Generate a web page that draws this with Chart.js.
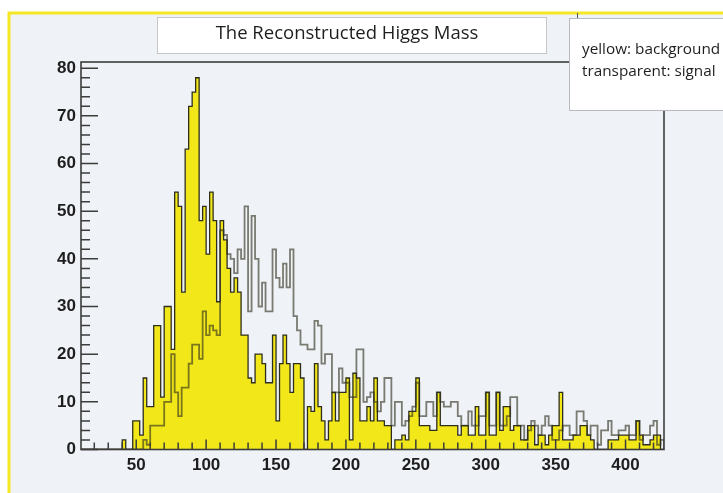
<!DOCTYPE html>
<html>
<head>
<meta charset="utf-8">
<title>The Reconstructed Higgs Mass</title>
<script src="https://cdn.jsdelivr.net/npm/chart.js@4.4.0/dist/chart.umd.min.js"></script>
<style>
  html, body { margin: 0; padding: 0; background: #fff; }
  #wrap { width: 723px; height: 493px; }
</style>
</head>
<body>
<div id="wrap"><canvas id="higgsChart" width="723" height="493"></canvas></div>
<script>
// --- histogram data (2.5 GeV bins starting at 10 GeV) ---
const binStart = 10;
const binWidth = 2.5;

// yellow: background
const background = [
  0, 0, 0, 0, 0, 0, 0, 0, 0, 0,
  0, 0, 2, 0, 0, 6, 6, 3, 15, 9,
  9, 26, 26, 11, 30, 30, 21, 54, 51, 33,
  63, 72, 75, 78, 48, 51, 41, 54, 48, 31,
  48, 44, 38, 33, 36, 33, 24, 24, 15, 14,
  20, 20, 18, 14, 14, 24, 6, 18, 24, 18,
  12, 18, 18, 15, 0, 9, 8, 18, 9, 6,
  2, 6, 12, 6, 12, 12, 15, 2, 16, 15,
  6, 6, 9, 6, 15, 6, 6, 5, 5, 0,
  2, 2, 3, 2, 8, 8, 15, 5, 5, 5,
  4, 4, 12, 5, 5, 5, 5, 5, 3, 5,
  5, 3, 3, 9, 3, 3, 12, 3, 3, 12,
  4, 9, 9, 4, 5, 5, 2, 2, 5, 5,
  1, 3, 3, 1, 3, 5, 5, 12, 2, 2,
  2, 3, 3, 5, 5, 3, 2, 0, 0, 0,
  0, 2, 2, 2, 3, 3, 3, 2, 2, 6,
  3, 1, 1, 2, 3, 3, 0
];

// transparent: signal
const signal = [
  0, 0, 0, 0, 0, 0, 0, 0, 0, 0,
  0, 0, 0, 0, 0, 0, 0, 0, 2, 1,
  5, 5, 5, 5, 10, 10, 20, 12, 7, 13,
  13, 18, 22, 22, 19, 29, 24, 26, 25, 24,
  46, 45, 41, 40, 37, 42, 40, 51, 29, 49,
  40, 30, 35, 29, 29, 42, 36, 34, 39, 34,
  42, 28, 25, 22, 22, 21, 21, 27, 26, 18,
  20, 20, 12, 12, 17, 14, 14, 11, 11, 21,
  21, 10, 11, 12, 10, 8, 10, 15, 15, 5,
  10, 10, 5, 6, 7, 9, 14, 7, 7, 10,
  10, 7, 12, 10, 9, 9, 10, 10, 7, 5,
  5, 8, 5, 5, 7, 7, 12, 5, 5, 12,
  5, 5, 7, 11, 11, 5, 5, 2, 4, 6,
  5, 3, 5, 7, 5, 2, 2, 4, 5, 5,
  3, 3, 8, 8, 6, 3, 5, 5, 1, 4,
  4, 6, 3, 3, 4, 4, 5, 3, 3, 6,
  2, 3, 3, 5, 6, 1, 2
];

const xTicks = [50, 100, 150, 200, 250, 300, 350, 400];
const yTicks = [0, 10, 20, 30, 40, 50, 60, 70, 80];

const titleText = 'The Reconstructed Higgs Mass';
const legendLines = ['yellow: background', 'transparent: signal'];

// bin contents -> step points (left edge of every bin, closed at the right edge)
function toSteps(values) {
  const pts = values.map((v, i) => ({ x: binStart + i * binWidth, y: v }));
  const end = binStart + values.length * binWidth;
  pts.push({ x: end, y: values[values.length - 1] });
  pts.push({ x: end, y: 0 });
  return pts;
}

// pad background with the yellow canvas border
const padBackground = {
  id: 'padBackground',
  beforeDraw(chart) {
    const { ctx, width, height } = chart;
    ctx.save();
    ctx.fillStyle = '#ffffff';
    ctx.fillRect(0, 0, width, height);
    ctx.fillStyle = '#eff2f6';
    ctx.fillRect(10, 14, width - 10, height - 14);
    ctx.strokeStyle = '#f3e822';
    ctx.lineWidth = 3;
    ctx.beginPath();
    ctx.moveTo(9, height);
    ctx.lineTo(9, 13);
    ctx.lineTo(width, 13);
    ctx.stroke();
    ctx.restore();
  }
};

// ROOT style frame with inward ticks
const frameAndTicks = {
  id: 'frameAndTicks',
  afterDatasetsDraw(chart) {
    const { ctx, chartArea: a, scales: { x, y } } = chart;
    ctx.save();
    ctx.strokeStyle = '#3c3c3c';
    ctx.lineWidth = 1.5;
    ctx.beginPath();
    for (let v = 20; v <= 420; v += 10) {
      const px = x.getPixelForValue(v);
      const len = v % 50 === 0 ? 10 : 7;
      ctx.moveTo(px, a.bottom);
      ctx.lineTo(px, a.bottom - len);
    }
    for (let v = 0; v <= 80; v += 2) {
      const py = y.getPixelForValue(v);
      const len = v % 10 === 0 ? 17 : 9;
      ctx.moveTo(a.left, py);
      ctx.lineTo(a.left + len, py);
    }
    ctx.stroke();
    ctx.lineWidth = 1.6;
    ctx.strokeRect(a.left, a.top, a.right - a.left, a.bottom - a.top);
    ctx.restore();
  }
};

// title box and the text legend box
const overlayBoxes = {
  id: 'overlayBoxes',
  afterDraw(chart) {
    const { ctx } = chart;
    ctx.save();
    ctx.fillStyle = '#ffffff';
    ctx.strokeStyle = '#c4c6ca';
    ctx.lineWidth = 1;
    ctx.fillRect(157, 17, 389, 36);
    ctx.strokeRect(157.5, 17.5, 389, 36);
    ctx.fillStyle = '#1e1e1e';
    ctx.font = '18.5px "Open Sans"';
    ctx.textAlign = 'center';
    ctx.textBaseline = 'middle';
    ctx.fillText(titleText, 347, 34);

    ctx.strokeStyle = '#555';
    ctx.beginPath();
    ctx.moveTo(577.5, 13); ctx.lineTo(577.5, 18);
    ctx.stroke();
    ctx.fillStyle = '#ffffff';
    ctx.strokeStyle = '#b8babd';
    ctx.fillRect(569, 18, 160, 92);
    ctx.strokeRect(569.5, 18.5, 160, 92);
    ctx.fillStyle = '#1e1e1e';
    ctx.font = '15.3px "Open Sans"';
    ctx.textAlign = 'left';
    ctx.textBaseline = 'alphabetic';
    legendLines.forEach((t, i) => ctx.fillText(t, 582, 54 + i * 22));
    ctx.restore();
  }
};

const tickFont = { family: '"Liberation Sans", Arial, sans-serif', weight: 'bold', size: 17 };

new Chart(document.getElementById('higgsChart'), {
  type: 'line',
  data: {
    datasets: [
      {
        label: 'background',
        data: toSteps(background),
        stepped: true,
        fill: 'origin',
        backgroundColor: 'rgba(242, 230, 0, 0.9)',
        borderColor: '#2e2e1e',
        borderWidth: 1.3,
        pointRadius: 0,
        order: 1
      },
      {
        label: 'signal',
        data: toSteps(signal),
        stepped: true,
        fill: false,
        borderColor: 'rgba(48, 48, 30, 0.62)',
        borderWidth: 1.8,
        pointRadius: 0,
        order: 0
      }
    ]
  },
  options: {
    responsive: false,
    animation: false,
    events: [],
    layout: { padding: { left: 0, top: 62, right: 59, bottom: 0 } },
    plugins: {
      legend: { display: false },
      title: { display: false },
      tooltip: { enabled: false }
    },
    scales: {
      x: {
        type: 'linear',
        min: 10.5,
        max: 427.5,
        grid: { display: false, drawTicks: false },
        border: { display: false },
        afterBuildTicks: s => { s.ticks = xTicks.map(v => ({ value: v })); },
        afterFit: s => { s.height = 43.5; },
        ticks: { padding: 6, maxRotation: 0, autoSkip: false, color: '#1e1e1e', font: tickFont }
      },
      y: {
        min: 0,
        max: 81.3,
        grid: { display: false, drawTicks: false },
        border: { display: false },
        afterBuildTicks: s => { s.ticks = yTicks.map(v => ({ value: v })); },
        afterFit: s => { s.width = 81; },
        ticks: { padding: 5, color: '#1e1e1e', font: tickFont }
      }
    }
  },
  plugins: [padBackground, frameAndTicks, overlayBoxes]
});
</script>
</body>
</html>
